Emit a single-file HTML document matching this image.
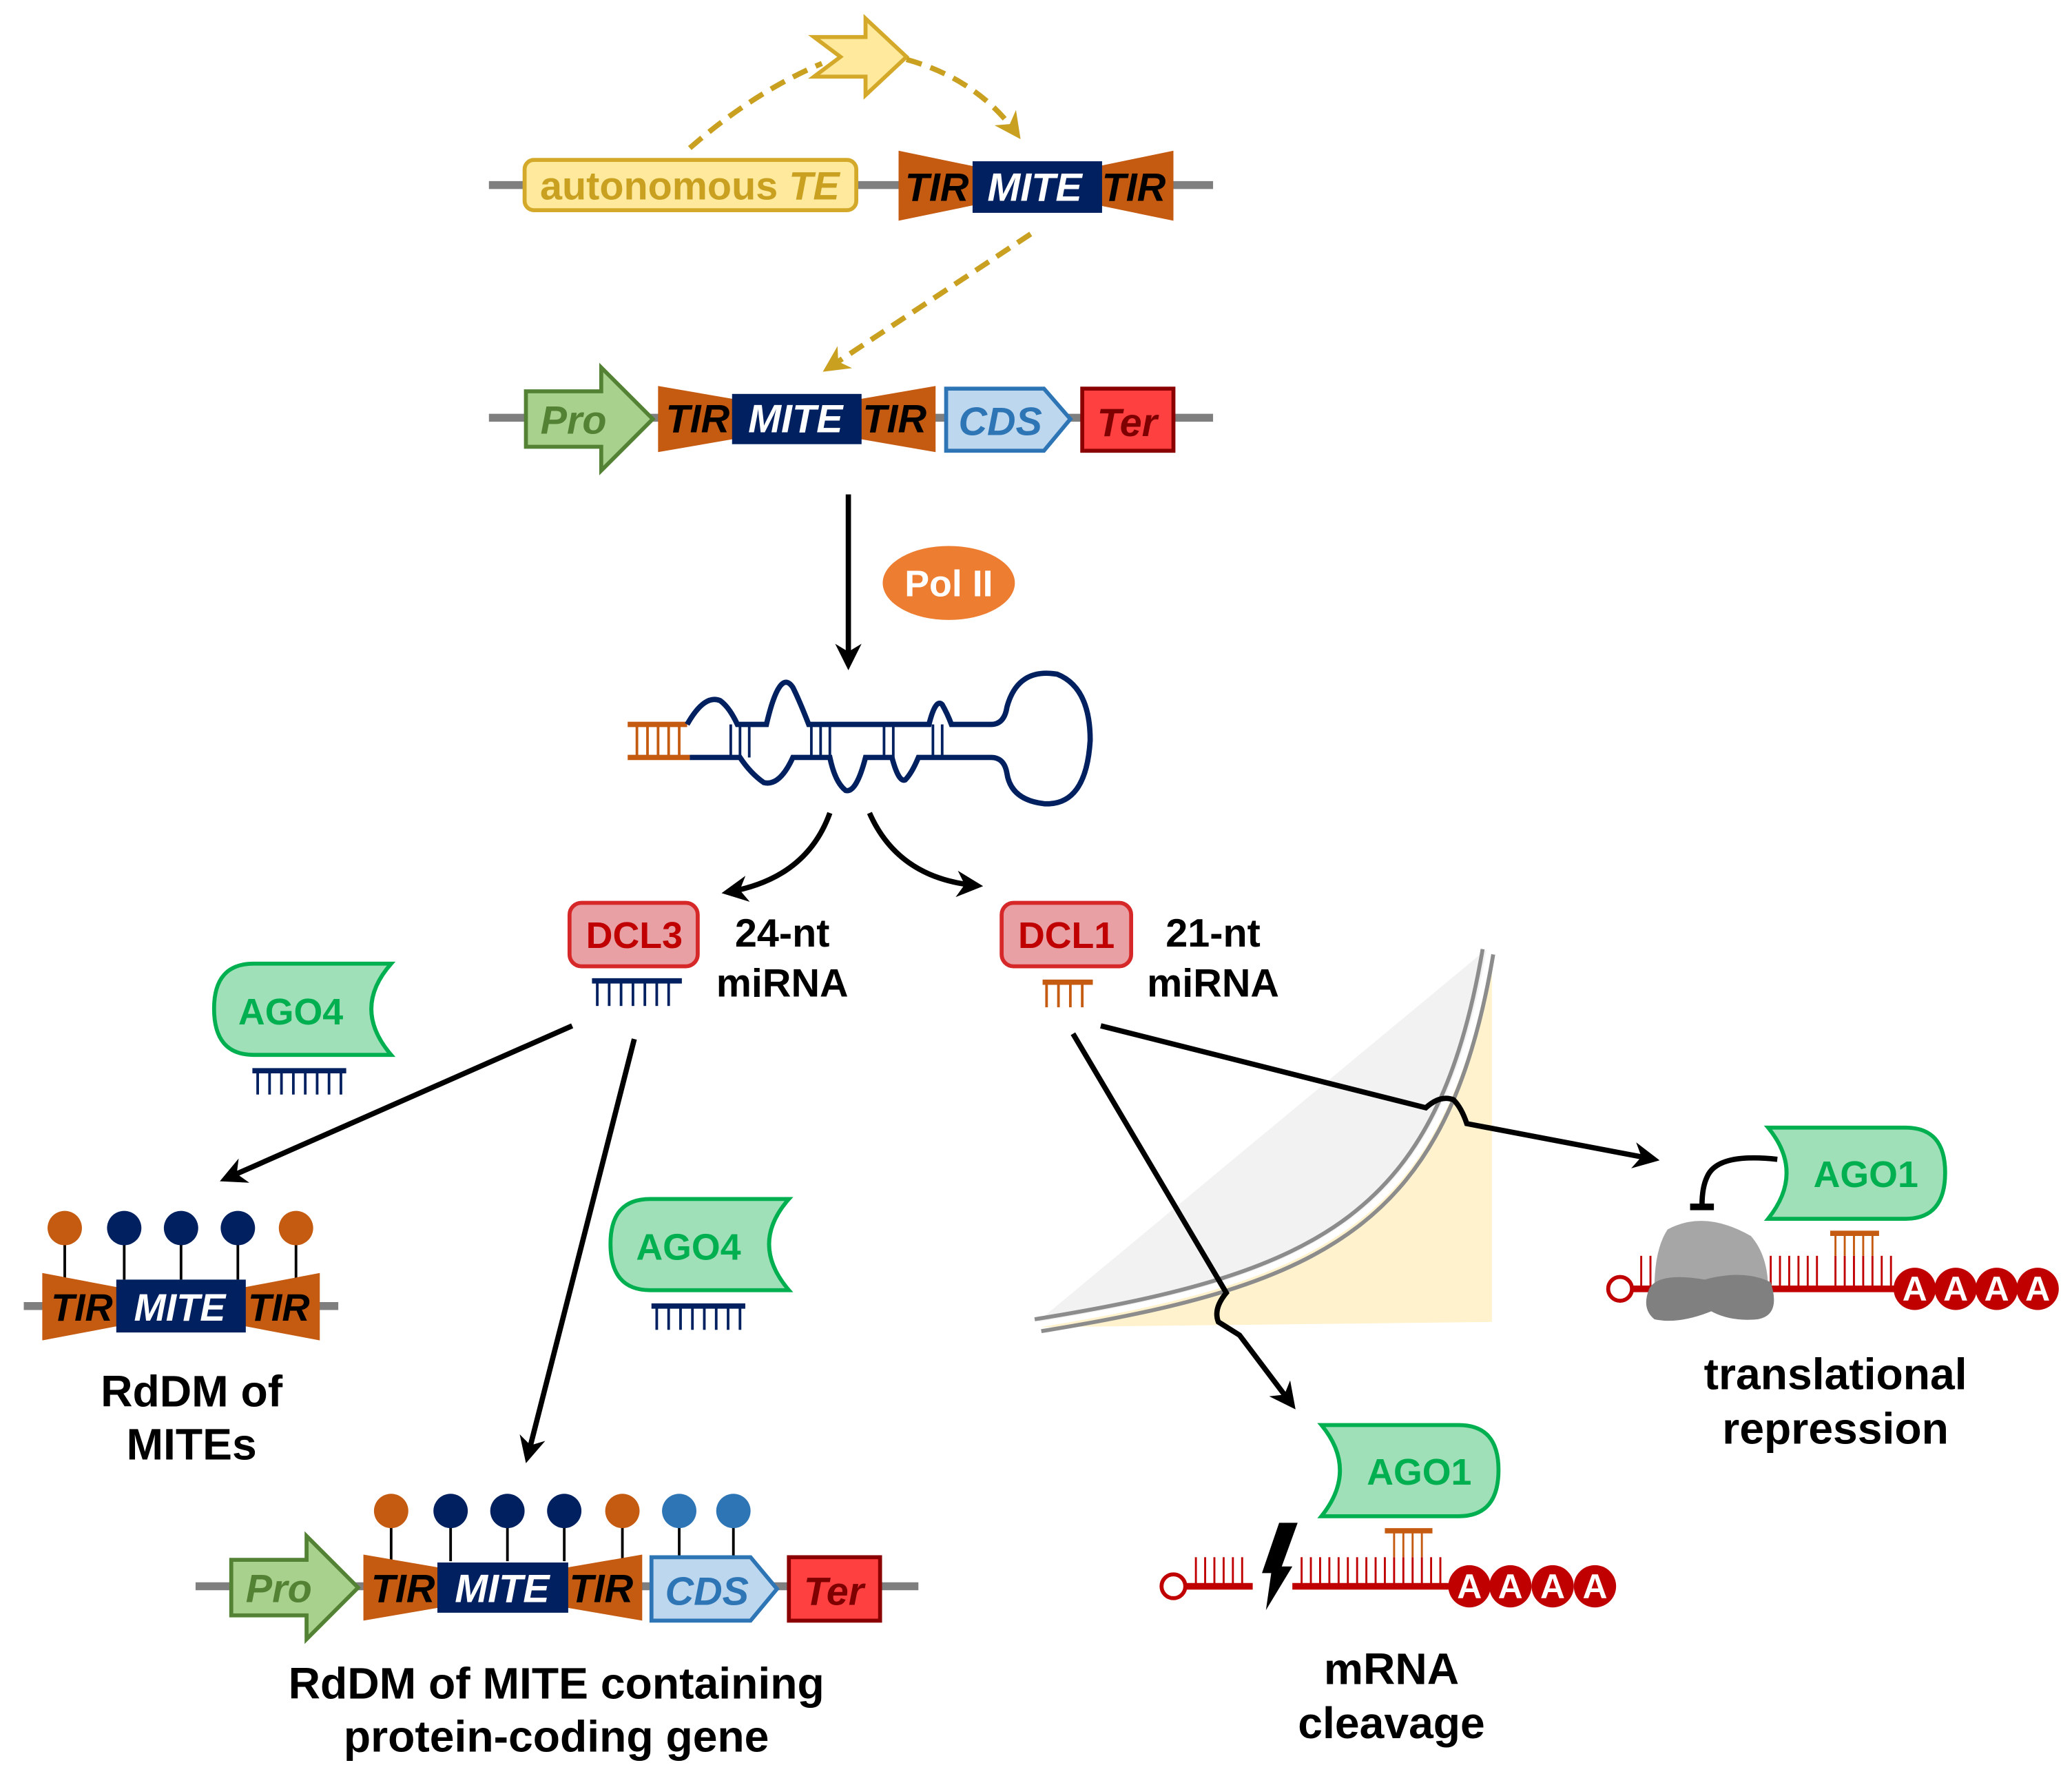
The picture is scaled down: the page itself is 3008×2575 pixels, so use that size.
<!DOCTYPE html>
<html><head><meta charset="utf-8"><style>
html,body{margin:0;padding:0;background:#fff}
svg{display:block}
text{font-family:"Liberation Sans",Arial,sans-serif;font-weight:bold}
</style></head><body>
<svg width="3008" height="2575" viewBox="0 0 1568 1342" preserveAspectRatio="none" xmlns="http://www.w3.org/2000/svg">
<defs>
<marker id="ah" viewBox="0 0 10 10" refX="8" refY="5" markerWidth="5" markerHeight="5" orient="auto"><path d="M0,0 L10,5 L0,10 L3,5 Z" fill="#000"/></marker>
<marker id="ahy" viewBox="0 0 10 10" refX="8" refY="5" markerWidth="5" markerHeight="5" orient="auto"><path d="M0,0 L10,5 L0,10 L3,5 Z" fill="#c9a020"/></marker>
</defs>

<!-- Row 1 -->
<line x1="370" y1="140" x2="918" y2="140" stroke="#7f7f7f" stroke-width="6"/>
<rect x="397" y="121" width="251" height="38" rx="7" fill="#fee99c" stroke="#d4a92a" stroke-width="3"/>
<text x="522" y="151" font-size="30" fill="#c9a020" text-anchor="middle" font-weight="normal">autonomous <tspan font-style="italic">TE</tspan></text>
<polygon points="680,114 738,126 738,155 680,167" fill="#c55a11"/>
<polygon points="888,114 830,126 830,155 888,167" fill="#c55a11"/>
<rect x="736" y="122" width="98" height="39" fill="#002060"/>
<text x="709" y="152" font-size="30" font-style="italic" text-anchor="middle" fill="#000">TIR</text>
<text x="783" y="152" font-size="30" font-style="italic" text-anchor="middle" fill="#fff">MITE</text>
<text x="858" y="152" font-size="30" font-style="italic" text-anchor="middle" fill="#000">TIR</text>

<polygon points="616,28 655,28 655,14 686,43 655,72 655,58 616,58 636,43" fill="#fee99c" stroke="#d4a92a" stroke-width="3" stroke-linejoin="miter"/>
<path d="M522,112 Q570,70 622,48" fill="none" stroke="#c9a020" stroke-width="4" stroke-dasharray="12,7"/>
<path d="M686,45 Q740,60 770,102" fill="none" stroke="#c9a020" stroke-width="4" stroke-dasharray="12,7" marker-end="url(#ahy)"/>
<path d="M780,177 L626,279" fill="none" stroke="#c9a020" stroke-width="4" stroke-dasharray="12,7" marker-end="url(#ahy)"/>

<!-- Row 2 -->
<line x1="370" y1="316" x2="918" y2="316" stroke="#7f7f7f" stroke-width="6"/>
<polygon points="398,296 455,296 455,278 494,317 455,356 455,338 398,338" fill="#a9d18e" stroke="#548235" stroke-width="3"/>
<text x="434" y="328" font-size="30" font-style="italic" text-anchor="middle" fill="#548235">Pro</text>
<polygon points="498,292 556,302 556,332 498,342" fill="#c55a11"/>
<polygon points="708,292 650,302 650,332 708,342" fill="#c55a11"/>
<rect x="554" y="298" width="98" height="38" fill="#002060"/>
<text x="528" y="327" font-size="30" font-style="italic" text-anchor="middle" fill="#000">TIR</text>
<text x="602" y="327" font-size="30" font-style="italic" text-anchor="middle" fill="#fff">MITE</text>
<text x="677" y="327" font-size="30" font-style="italic" text-anchor="middle" fill="#000">TIR</text>
<polygon points="716,294 790,294 810,317 790,341 716,341" fill="#bdd7ee" stroke="#2e75b6" stroke-width="3"/>
<text x="757" y="329" font-size="30" font-style="italic" text-anchor="middle" fill="#2e75b6" font-weight="normal">CDS</text>
<rect x="819" y="294" width="69" height="47" fill="#ff4040" stroke="#8b0000" stroke-width="3"/>
<text x="853" y="330" font-size="30" font-style="italic" text-anchor="middle" fill="#7f0000" font-weight="normal">Ter</text>

<!-- Pol II -->
<line x1="642" y1="374" x2="642" y2="503" stroke="#000" stroke-width="4" marker-end="url(#ah)"/>
<ellipse cx="718" cy="441" rx="50" ry="28" fill="#ed7d31"/>
<text x="718" y="451" font-size="28" text-anchor="middle" fill="#fff">Pol II</text>

<!-- hairpin -->
<g stroke="#c55a11" stroke-width="4" fill="none">
<line x1="475" y1="548" x2="520" y2="548"/><line x1="475" y1="573" x2="522" y2="573"/>
</g>
<g stroke="#c55a11" stroke-width="2"><line x1="482" y1="548" x2="482" y2="573"/><line x1="490" y1="548" x2="490" y2="573"/><line x1="498" y1="548" x2="498" y2="573"/><line x1="506" y1="548" x2="506" y2="573"/><line x1="514" y1="548" x2="514" y2="573"/></g>
<path d="M520,548 Q533,525 545,530 Q552,535 558,548 L580,548 Q590,505 600,520 Q605,530 612,548 L703,548 Q708,528 713,533 Q717,540 720,548 L750,548 Q760,548 762,535 Q770,505 800,510 Q825,520 825,560 Q822,610 790,608 Q765,605 762,585 Q760,573 750,573 L695,573 Q690,585 685,590 Q680,592 675,573 L655,573 Q648,600 640,598 Q632,592 628,573 L600,573 Q590,595 578,592 Q568,585 560,573 L522,573" fill="none" stroke="#002060" stroke-width="4"/>
<g stroke="#002060" stroke-width="2">
<line x1="553" y1="548" x2="553" y2="573"/><line x1="560" y1="548" x2="560" y2="573"/><line x1="567" y1="548" x2="567" y2="573"/>
<line x1="614" y1="548" x2="614" y2="573"/><line x1="621" y1="548" x2="621" y2="573"/><line x1="628" y1="548" x2="628" y2="573"/>
<line x1="669" y1="548" x2="669" y2="573"/><line x1="676" y1="548" x2="676" y2="573"/>
<line x1="706" y1="548" x2="706" y2="573"/><line x1="713" y1="548" x2="713" y2="573"/>
</g>
<path d="M628,615 Q610,665 550,675" fill="none" stroke="#000" stroke-width="4" marker-end="url(#ah)"/>
<path d="M658,615 Q680,665 740,670" fill="none" stroke="#000" stroke-width="4" marker-end="url(#ah)"/>

<!-- DCL3 / DCL1 -->
<rect x="431" y="683" width="97" height="48" rx="9" fill="#e9a0a4" stroke="#d62828" stroke-width="3"/>
<text x="480" y="717" font-size="28" text-anchor="middle" fill="#c00000">DCL3</text>
<line x1="448" y1="742" x2="516" y2="742" stroke="#002060" stroke-width="4"/>
<g stroke="#002060" stroke-width="2"><line x1="452" y1="742" x2="452" y2="761"/><line x1="461" y1="742" x2="461" y2="761"/><line x1="470" y1="742" x2="470" y2="761"/><line x1="479" y1="742" x2="479" y2="761"/><line x1="488" y1="742" x2="488" y2="761"/><line x1="497" y1="742" x2="497" y2="761"/><line x1="506" y1="742" x2="506" y2="761"/></g>
<text x="592" y="716" font-size="30" text-anchor="middle" fill="#000">24-nt</text>
<text x="592" y="754" font-size="30" text-anchor="middle" fill="#000">miRNA</text>
<rect x="758" y="683" width="98" height="48" rx="9" fill="#e9a0a4" stroke="#d62828" stroke-width="3"/>
<text x="807" y="717" font-size="28" text-anchor="middle" fill="#c00000">DCL1</text>
<line x1="789" y1="743" x2="827" y2="743" stroke="#c55a11" stroke-width="4"/>
<g stroke="#c55a11" stroke-width="2"><line x1="792" y1="743" x2="792" y2="762"/><line x1="801" y1="743" x2="801" y2="762"/><line x1="810" y1="743" x2="810" y2="762"/><line x1="819" y1="743" x2="819" y2="762"/></g>
<text x="918" y="716" font-size="30" text-anchor="middle" fill="#000">21-nt</text>
<text x="918" y="754" font-size="30" text-anchor="middle" fill="#000">miRNA</text>

<!-- AGO4 1 -->
<path d="M192,729 L296,729 Q266,763 296,798 L192,798 Q162,798 162,763 Q162,729 192,729 Z" fill="#9fe0b8" stroke="#00b050" stroke-width="3"/>
<text x="220" y="775" font-size="28" text-anchor="middle" fill="#00b050">AGO4</text>
<line x1="191" y1="810" x2="262" y2="810" stroke="#002060" stroke-width="4"/>
<g stroke="#002060" stroke-width="2"><line x1="195" y1="810" x2="195" y2="828"/><line x1="204" y1="810" x2="204" y2="828"/><line x1="213" y1="810" x2="213" y2="828"/><line x1="222" y1="810" x2="222" y2="828"/><line x1="231" y1="810" x2="231" y2="828"/><line x1="240" y1="810" x2="240" y2="828"/><line x1="249" y1="810" x2="249" y2="828"/><line x1="258" y1="810" x2="258" y2="828"/></g>
<!-- AGO4 2 -->
<path d="M492,907 L597,907 Q567,941 597,976 L492,976 Q462,976 462,941 Q462,907 492,907 Z" fill="#9fe0b8" stroke="#00b050" stroke-width="3"/>
<text x="521" y="953" font-size="28" text-anchor="middle" fill="#00b050">AGO4</text>
<line x1="493" y1="988" x2="564" y2="988" stroke="#002060" stroke-width="4"/>
<g stroke="#002060" stroke-width="2"><line x1="497" y1="988" x2="497" y2="1006"/><line x1="506" y1="988" x2="506" y2="1006"/><line x1="515" y1="988" x2="515" y2="1006"/><line x1="524" y1="988" x2="524" y2="1006"/><line x1="533" y1="988" x2="533" y2="1006"/><line x1="542" y1="988" x2="542" y2="1006"/><line x1="551" y1="988" x2="551" y2="1006"/><line x1="560" y1="988" x2="560" y2="1006"/></g>

<line x1="433" y1="776" x2="170" y2="892" stroke="#000" stroke-width="4" marker-end="url(#ah)"/>
<line x1="480" y1="786" x2="399" y2="1103" stroke="#000" stroke-width="4" marker-end="url(#ah)"/>

<!-- membrane -->
<path d="M785,1000 L1125,718 C1090,920 1000,965 785,1000 Z" fill="#f2f2f2"/>
<path d="M787,1004 C1002,969 1095,924 1129,720 L1129,1000 L787,1004 Z" fill="#fff2cc"/>
<path d="M783,998 C1000,963 1088,918 1122,718" fill="none" stroke="#8c8c8c" stroke-width="3"/>
<path d="M788,1007 C1005,972 1096,926 1130,722" fill="none" stroke="#8c8c8c" stroke-width="3"/>

<path d="M833,776 L1079,838 Q1090,828 1100,832 Q1106,838 1110,850 L1252,877" fill="none" stroke="#000" stroke-width="4" marker-end="url(#ah)"/>
<path d="M812,782 L928,978 Q918,990 922,1000 Q930,1005 938,1010 L978,1063" fill="none" stroke="#000" stroke-width="4" marker-end="url(#ah)"/>

<!-- Left methylated MITE -->
<line x1="18" y1="988" x2="256" y2="988" stroke="#7f7f7f" stroke-width="6"/>
<g stroke="#000" stroke-width="2"><line x1="49" y1="929" x2="49" y2="968"/><line x1="94" y1="929" x2="94" y2="968"/><line x1="137" y1="929" x2="137" y2="968"/><line x1="180" y1="929" x2="180" y2="968"/><line x1="224" y1="929" x2="224" y2="968"/></g>
<circle cx="49" cy="929" r="13" fill="#c55a11"/><circle cx="94" cy="929" r="13" fill="#002060"/><circle cx="137" cy="929" r="13" fill="#002060"/><circle cx="180" cy="929" r="13" fill="#002060"/><circle cx="224" cy="929" r="13" fill="#c55a11"/>
<polygon points="32,963 90,974 90,1003 32,1014" fill="#c55a11"/>
<polygon points="242,963 184,974 184,1003 242,1014" fill="#c55a11"/>
<rect x="88" y="968" width="98" height="40" fill="#002060"/>
<text x="62" y="999" font-size="29" font-style="italic" text-anchor="middle" fill="#000">TIR</text>
<text x="136" y="999" font-size="29" font-style="italic" text-anchor="middle" fill="#fff">MITE</text>
<text x="211" y="999" font-size="29" font-style="italic" text-anchor="middle" fill="#000">TIR</text>
<text x="145" y="1064" font-size="33.5" text-anchor="middle" fill="#000">RdDM of</text>
<text x="145" y="1104" font-size="33.5" text-anchor="middle" fill="#000">MITEs</text>

<!-- bottom gene -->
<line x1="148" y1="1200" x2="695" y2="1200" stroke="#7f7f7f" stroke-width="6"/>
<g stroke="#000" stroke-width="2"><line x1="296" y1="1143" x2="296" y2="1181"/><line x1="341" y1="1143" x2="341" y2="1181"/><line x1="384" y1="1143" x2="384" y2="1181"/><line x1="427" y1="1143" x2="427" y2="1181"/><line x1="471" y1="1143" x2="471" y2="1181"/><line x1="514" y1="1143" x2="514" y2="1179"/><line x1="555" y1="1143" x2="555" y2="1179"/></g>
<circle cx="296" cy="1143" r="13" fill="#c55a11"/><circle cx="341" cy="1143" r="13" fill="#002060"/><circle cx="384" cy="1143" r="13" fill="#002060"/><circle cx="427" cy="1143" r="13" fill="#002060"/><circle cx="471" cy="1143" r="13" fill="#c55a11"/><circle cx="514" cy="1143" r="13" fill="#2e75b6"/><circle cx="555" cy="1143" r="13" fill="#2e75b6"/>
<polygon points="175,1180 232,1180 232,1162 271,1201 232,1240 232,1222 175,1222" fill="#a9d18e" stroke="#548235" stroke-width="3"/>
<text x="211" y="1212" font-size="30" font-style="italic" text-anchor="middle" fill="#548235">Pro</text>
<polygon points="275,1176 333,1186 333,1216 275,1226" fill="#c55a11"/>
<polygon points="486,1176 428,1186 428,1216 486,1226" fill="#c55a11"/>
<rect x="331" y="1182" width="99" height="38" fill="#002060"/>
<text x="305" y="1212" font-size="30" font-style="italic" text-anchor="middle" fill="#000">TIR</text>
<text x="380" y="1212" font-size="30" font-style="italic" text-anchor="middle" fill="#fff">MITE</text>
<text x="455" y="1212" font-size="30" font-style="italic" text-anchor="middle" fill="#000">TIR</text>
<polygon points="493,1178 568,1178 588,1202 568,1226 493,1226" fill="#bdd7ee" stroke="#2e75b6" stroke-width="3"/>
<text x="535" y="1214" font-size="30" font-style="italic" text-anchor="middle" fill="#2e75b6" font-weight="normal">CDS</text>
<rect x="597" y="1178" width="69" height="48" fill="#ff4040" stroke="#8b0000" stroke-width="3"/>
<text x="631" y="1214" font-size="30" font-style="italic" text-anchor="middle" fill="#7f0000" font-weight="normal">Ter</text>
<text x="421" y="1285" font-size="33.5" text-anchor="middle" fill="#000">RdDM of MITE containing</text>
<text x="421" y="1325" font-size="33.5" text-anchor="middle" fill="#000">protein-coding gene</text>

<!-- translational repression -->
<path d="M1338,853 L1442,853 Q1472,853 1472,887 Q1472,922 1442,922 L1338,922 Q1366,887 1338,853 Z" fill="#9fe0b8" stroke="#00b050" stroke-width="3"/>
<text x="1412" y="898" font-size="28" text-anchor="middle" fill="#00b050">AGO1</text>
<path d="M1345,877 Q1300,872 1292,890 Q1288,898 1288,912" fill="none" stroke="#000" stroke-width="4"/>
<line x1="1279" y1="913" x2="1297" y2="913" stroke="#000" stroke-width="5"/>
<line x1="1234" y1="975" x2="1440" y2="975" stroke="#c00000" stroke-width="5"/>
<circle cx="1226" cy="975" r="9" fill="#fff" stroke="#c00000" stroke-width="3"/>
<g stroke="#c00000" stroke-width="1.5">
<line x1="1242" y1="975" x2="1242" y2="950"/><line x1="1249" y1="975" x2="1249" y2="950"/><line x1="1256" y1="975" x2="1256" y2="950"/><line x1="1263" y1="975" x2="1263" y2="950"/><line x1="1270" y1="975" x2="1270" y2="950"/><line x1="1277" y1="975" x2="1277" y2="950"/><line x1="1284" y1="975" x2="1284" y2="950"/><line x1="1291" y1="975" x2="1291" y2="950"/><line x1="1298" y1="975" x2="1298" y2="950"/><line x1="1305" y1="975" x2="1305" y2="950"/><line x1="1312" y1="975" x2="1312" y2="950"/><line x1="1319" y1="975" x2="1319" y2="950"/><line x1="1326" y1="975" x2="1326" y2="950"/><line x1="1333" y1="975" x2="1333" y2="950"/><line x1="1340" y1="975" x2="1340" y2="950"/><line x1="1347" y1="975" x2="1347" y2="950"/><line x1="1354" y1="975" x2="1354" y2="950"/><line x1="1361" y1="975" x2="1361" y2="950"/><line x1="1368" y1="975" x2="1368" y2="950"/><line x1="1375" y1="975" x2="1375" y2="950"/><line x1="1389" y1="975" x2="1389" y2="950"/><line x1="1396" y1="975" x2="1396" y2="950"/><line x1="1403" y1="975" x2="1403" y2="950"/><line x1="1410" y1="975" x2="1410" y2="950"/><line x1="1417" y1="975" x2="1417" y2="950"/><line x1="1424" y1="975" x2="1424" y2="950"/><line x1="1431" y1="975" x2="1431" y2="950"/>
</g>
<line x1="1385" y1="933" x2="1422" y2="933" stroke="#c55a11" stroke-width="4"/>
<g stroke="#c55a11" stroke-width="1.5"><line x1="1389" y1="933" x2="1389" y2="950"/><line x1="1396" y1="933" x2="1396" y2="950"/><line x1="1403" y1="933" x2="1403" y2="950"/><line x1="1410" y1="933" x2="1410" y2="950"/><line x1="1417" y1="933" x2="1417" y2="950"/></g>
<path d="M1262,930 Q1290,915 1325,935 Q1338,950 1338,975 L1252,975 Q1252,945 1262,930 Z" fill="#a6a6a6"/>
<path d="M1248,975 Q1255,962 1290,968 Q1320,960 1340,970 Q1348,995 1330,998 Q1310,1000 1295,992 Q1270,1002 1252,998 Q1242,990 1248,975 Z" fill="#808080"/>
<g fill="#c00000"><circle cx="1449" cy="975" r="16"/><circle cx="1480" cy="975" r="16"/><circle cx="1511" cy="975" r="16"/><circle cx="1542" cy="975" r="16"/></g>
<g font-size="26" fill="#fff" text-anchor="middle"><text x="1449" y="984">A</text><text x="1480" y="984">A</text><text x="1511" y="984">A</text><text x="1542" y="984">A</text></g>
<text x="1389" y="1051" font-size="33.5" text-anchor="middle" fill="#000">translational</text>
<text x="1389" y="1092" font-size="33.5" text-anchor="middle" fill="#000">repression</text>

<!-- mRNA cleavage -->
<path d="M1000,1078 L1104,1078 Q1134,1078 1134,1112 Q1134,1147 1104,1147 L1000,1147 Q1028,1112 1000,1078 Z" fill="#9fe0b8" stroke="#00b050" stroke-width="3"/>
<text x="1074" y="1123" font-size="28" text-anchor="middle" fill="#00b050">AGO1</text>
<line x1="896" y1="1200" x2="948" y2="1200" stroke="#c00000" stroke-width="5"/>
<line x1="978" y1="1200" x2="1100" y2="1200" stroke="#c00000" stroke-width="5"/>
<circle cx="888" cy="1200" r="9" fill="#fff" stroke="#c00000" stroke-width="3"/>
<g stroke="#c00000" stroke-width="1.5">
<line x1="905" y1="1200" x2="905" y2="1178"/><line x1="912" y1="1200" x2="912" y2="1178"/><line x1="919" y1="1200" x2="919" y2="1178"/><line x1="926" y1="1200" x2="926" y2="1178"/><line x1="933" y1="1200" x2="933" y2="1178"/><line x1="940" y1="1200" x2="940" y2="1178"/>
<line x1="985" y1="1200" x2="985" y2="1178"/><line x1="992" y1="1200" x2="992" y2="1178"/><line x1="999" y1="1200" x2="999" y2="1178"/><line x1="1006" y1="1200" x2="1006" y2="1178"/><line x1="1013" y1="1200" x2="1013" y2="1178"/><line x1="1020" y1="1200" x2="1020" y2="1178"/><line x1="1027" y1="1200" x2="1027" y2="1178"/><line x1="1034" y1="1200" x2="1034" y2="1178"/><line x1="1041" y1="1200" x2="1041" y2="1178"/><line x1="1048" y1="1200" x2="1048" y2="1178"/><line x1="1055" y1="1200" x2="1055" y2="1178"/><line x1="1062" y1="1200" x2="1062" y2="1178"/><line x1="1069" y1="1200" x2="1069" y2="1178"/><line x1="1076" y1="1200" x2="1076" y2="1178"/><line x1="1083" y1="1200" x2="1083" y2="1178"/><line x1="1090" y1="1200" x2="1090" y2="1178"/>
</g>
<line x1="1048" y1="1158" x2="1084" y2="1158" stroke="#c55a11" stroke-width="4"/>
<g stroke="#c55a11" stroke-width="1.5"><line x1="1055" y1="1158" x2="1055" y2="1178"/><line x1="1062" y1="1158" x2="1062" y2="1178"/><line x1="1069" y1="1158" x2="1069" y2="1178"/><line x1="1076" y1="1158" x2="1076" y2="1178"/></g>
<polygon points="968,1152 982,1152 970,1185 978,1185 958,1218 962,1190 955,1190" fill="#000"/>
<g fill="#c00000"><circle cx="1112" cy="1200" r="16"/><circle cx="1143" cy="1200" r="16"/><circle cx="1175" cy="1200" r="16"/><circle cx="1207" cy="1200" r="16"/></g>
<g font-size="26" fill="#fff" text-anchor="middle"><text x="1112" y="1209">A</text><text x="1143" y="1209">A</text><text x="1175" y="1209">A</text><text x="1207" y="1209">A</text></g>
<text x="1053" y="1274" font-size="33.5" text-anchor="middle" fill="#000">mRNA</text>
<text x="1053" y="1315" font-size="33.5" text-anchor="middle" fill="#000">cleavage</text>
</svg>
</body></html>
